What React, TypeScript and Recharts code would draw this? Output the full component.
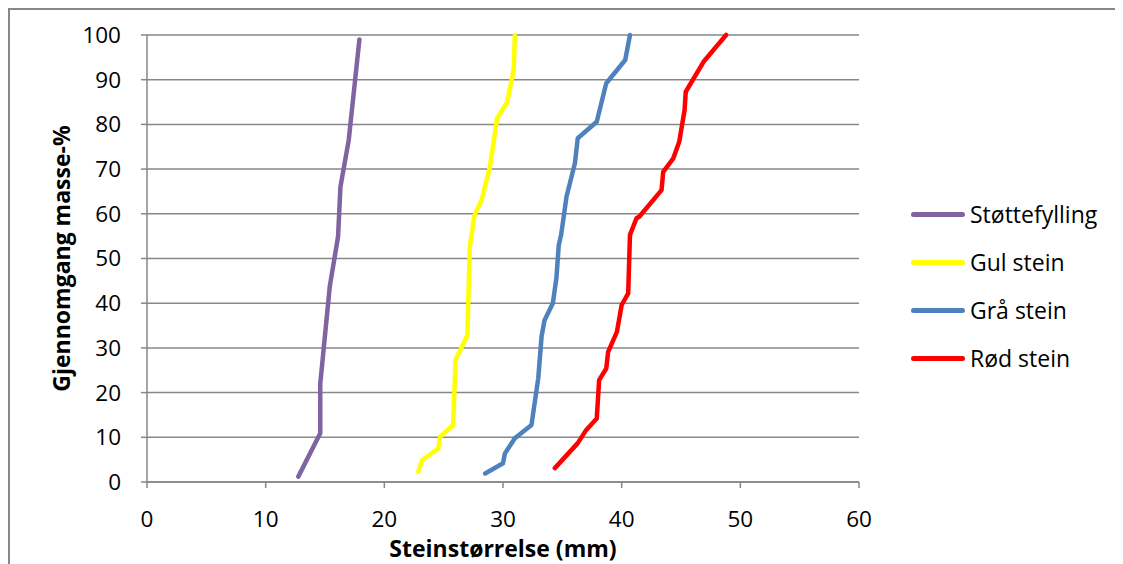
import React from "react";
import { LineChart, Line, XAxis, YAxis, CartesianGrid } from "recharts";

const stottefylling = [
  { x: 12.75, y: 1.2 },
  { x: 14.6, y: 10.9 },
  { x: 14.6, y: 22 },
  { x: 15.4, y: 43.7 },
  { x: 16.1, y: 54.9 },
  { x: 16.3, y: 66 },
  { x: 17.0, y: 76.5 },
  { x: 17.9, y: 99 },
];

const gulStein = [
  { x: 22.86, y: 2.3 },
  { x: 23.2, y: 4.9 },
  { x: 24.55, y: 7.5 },
  { x: 24.7, y: 10.1 },
  { x: 25.8, y: 12.75 },
  { x: 26.0, y: 27.3 },
  { x: 26.4, y: 29.5 },
  { x: 27.0, y: 32.9 },
  { x: 27.2, y: 52.6 },
  { x: 27.6, y: 59.7 },
  { x: 28.2, y: 63.1 },
  { x: 28.9, y: 70.5 },
  { x: 29.5, y: 81.4 },
  { x: 30.35, y: 84.9 },
  { x: 30.9, y: 92.3 },
  { x: 31.0, y: 100 },
];

const graStein = [
  { x: 28.5, y: 1.9 },
  { x: 30.0, y: 4.2 },
  { x: 30.16, y: 6.4 },
  { x: 31.0, y: 9.8 },
  { x: 32.4, y: 12.75 },
  { x: 32.97, y: 23.2 },
  { x: 33.25, y: 32.5 },
  { x: 33.5, y: 36.2 },
  { x: 34.2, y: 40 },
  { x: 34.5, y: 45.6 },
  { x: 34.7, y: 53 },
  { x: 34.9, y: 55.3 },
  { x: 35.35, y: 63.8 },
  { x: 36.06, y: 71.3 },
  { x: 36.3, y: 76.9 },
  { x: 37.9, y: 80.6 },
  { x: 38.7, y: 89.2 },
  { x: 40.3, y: 94.4 },
  { x: 40.7, y: 100 },
];

const rodStein = [
  { x: 34.37, y: 3.1 },
  { x: 36.3, y: 8.7 },
  { x: 37.0, y: 11.6 },
  { x: 37.9, y: 14.2 },
  { x: 38.1, y: 22.8 },
  { x: 38.7, y: 25.4 },
  { x: 38.86, y: 29.1 },
  { x: 39.6, y: 33.6 },
  { x: 40.0, y: 39.6 },
  { x: 40.55, y: 42.2 },
  { x: 40.7, y: 55.3 },
  { x: 41.25, y: 59 },
  { x: 41.5, y: 59.4 },
  { x: 43.36, y: 65.3 },
  { x: 43.5, y: 69.4 },
  { x: 44.35, y: 72.4 },
  { x: 44.85, y: 76.1 },
  { x: 45.3, y: 83.2 },
  { x: 45.4, y: 87.3 },
  { x: 46.9, y: 94 },
  { x: 48.8, y: 100 },
];

const xTicks = [0, 10, 20, 30, 40, 50, 60];
const yTicks = [0, 10, 20, 30, 40, 50, 60, 70, 80, 90, 100];

const seriesList = [
  { name: "Støttefylling", color: "#8064A2", data: stottefylling },
  { name: "Gul stein", color: "#FFFF00", data: gulStein },
  { name: "Grå stein", color: "#4F81BD", data: graStein },
  { name: "Rød stein", color: "#FF0000", data: rodStein },
];

const FONT = "'Open Sans', sans-serif";
const GRID = "#878787";

export default function App() {
  return (
    <div style={{ position: "relative", width: 1115, height: 556 }}>
      <LineChart
        width={1115}
        height={556}
        margin={{ top: 27, right: 264, bottom: 22, left: 0 }}
      >
        <CartesianGrid vertical={false} stroke={GRID} strokeWidth={1.5} />
        <XAxis
          type="number"
          dataKey="x"
          domain={[0, 60]}
          ticks={xTicks}
          interval={0}
          height={60}
          stroke={GRID}
          strokeWidth={1.5}
          tickSize={6}
          tickMargin={23}
          tick={{ fill: "#000", fontSize: 22.5, fontFamily: FONT }}
          label={{
            value: "Steinstørrelse (mm)",
            position: "insideBottom",
            offset: -15,
            style: { fill: "#000", fontSize: 23, fontWeight: "bold", fontFamily: FONT },
          }}
        />
        <YAxis
          type="number"
          dataKey="y"
          domain={[0, 100]}
          ticks={yTicks}
          interval={0}
          width={139}
          stroke={GRID}
          strokeWidth={1.5}
          tickSize={6}
          tickMargin={20}
          tick={{ fill: "#000", fontSize: 22.5, fontFamily: FONT }}
          label={{
            value: "Gjennomgang masse-%",
            angle: -90,
            position: "insideLeft",
            offset: 54,
            style: { fill: "#000", fontSize: 23, fontWeight: "bold", fontFamily: FONT, textAnchor: "middle" },
          }}
        />
        {seriesList.map((s) => (
          <Line
            key={s.name}
            name={s.name}
            data={s.data}
            dataKey="y"
            type="linear"
            stroke={s.color}
            strokeWidth={4.5}
            dot={false}
            isAnimationActive={false}
            strokeLinecap="round"
            strokeLinejoin="round"
          />
        ))}
      </LineChart>
      <div
        style={{
          position: "absolute",
          left: 903,
          top: 182,
          fontFamily: FONT,
          fontSize: 23,
          color: "#000",
        }}
      >
        {seriesList.map((s) => (
          <div key={s.name} style={{ display: "flex", alignItems: "center", height: 48 }}>
            <div
              style={{
                width: 54,
                height: 5,
                borderRadius: 3,
                background: s.color,
                marginRight: 5,
              }}
            />
            <span style={{ lineHeight: "48px" }}>{s.name}</span>
          </div>
        ))}
      </div>
      <div
        style={{
          position: "absolute",
          left: 0,
          top: 0,
          width: 1115,
          height: 556,
          borderTop: `2px solid ${GRID}`,
          borderLeft: `2px solid ${GRID}`,
          boxSizing: "border-box",
          pointerEvents: "none",
        }}
      />
    </div>
  );
}
